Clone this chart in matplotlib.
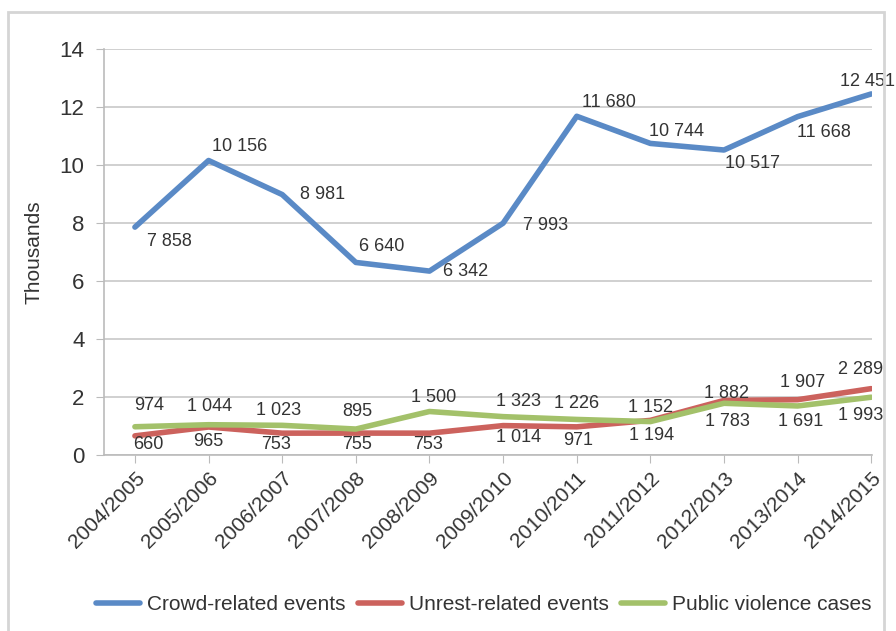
import numpy as np
import matplotlib
matplotlib.use('Agg')
import matplotlib.pyplot as plt
from matplotlib.patches import Rectangle

plt.rcParams['font.family'] = ['Liberation Sans', 'DejaVu Sans']

# data
years = ['2004/2005', '2005/2006', '2006/2007', '2007/2008', '2008/2009', '2009/2010',
         '2010/2011', '2011/2012', '2012/2013', '2013/2014', '2014/2015']
crowd = [7858, 10156, 8981, 6640, 6342, 7993, 11680, 10744, 10517, 11668, 12451]
unrest = [660, 965, 753, 755, 753, 1014, 971, 1194, 1882, 1907, 2289]
violence = [974, 1044, 1023, 895, 1500, 1323, 1226, 1152, 1783, 1691, 1993]

# label offsets (pixels, x right / y up)
crowd_off = [(35, -14), (31, 14), (40, 0), (26, 16), (36, 0), (42, -2),
             (32, 14), (26, 12), (29, -13), (26, -16), (-4, 12)]
unrest_off = [(13, -9), (0, -14), (-6, -11), (1, -11), (-1, -11), (15, -12),
              (1, -14), (1, -15), (3, 7), (5, 17), (-11, 19)]
violence_off = [(14, 21), (1, 18), (-4, 15), (1, 18), (4, 14), (15, 15),
                (0, 16), (0, 14), (3, -18), (3, -16), (-11, -18)]

c_blue = '#5a8ac6'
c_red = '#cc625d'
c_green = '#a3c16a'
txt = '#333333'

fig = plt.figure(figsize=(8.96, 6.31), dpi=100)
ax = fig.add_axes([104/896, 1-455/631, (872-104)/896, (455-49)/631])

x = np.arange(len(years))
series = [(crowd, c_blue, 'Crowd-related events', crowd_off),
          (unrest, c_red, 'Unrest-related events', unrest_off),
          (violence, c_green, 'Public violence cases', violence_off)]
for vals, col, name, offs in series:
    v = np.array(vals) / 1000
    ax.plot(x, v, color=col, lw=4, label=name, solid_capstyle='round', solid_joinstyle='round')
    for i in range(len(vals)):
        ax.annotate(f'{vals[i]:,}'.replace(',', ' '), (x[i], v[i]), xytext=offs[i],
                    textcoords='offset pixels', ha='center', va='center',
                    fontsize=13, color=txt)

ax.set_xlim(-0.42, 10.01)
ax.set_ylim(0, 14)
ax.set_yticks(np.arange(0, 15, 2))
ax.set_xticks(x)
ax.set_xticklabels(years, rotation=45, ha='right', rotation_mode='anchor', fontsize=15, color=txt)
ax.tick_params(axis='y', labelsize=16, labelcolor=txt, length=6, color='#bbbbbb', pad=8)
ax.tick_params(axis='x', length=6, color='#bbbbbb', pad=4)
ax.grid(axis='y', color='#c8c8c8', lw=1.2)
ax.set_axisbelow(True)
for s in ['top', 'right']:
    ax.spines[s].set_visible(False)
for s in ['left', 'bottom']:
    ax.spines[s].set_color('#bbbbbb')
    ax.spines[s].set_linewidth(1.2)
ax.set_ylabel('Thousands', fontsize=15, color=txt, labelpad=12)

leg = fig.legend(loc='center', bbox_to_anchor=(0.54, 1-605/631), ncol=3, frameon=False,
                 fontsize=15, handlelength=2.1, columnspacing=0.6, handletextpad=0.35)
for t in leg.get_texts():
    t.set_color(txt)

# outer frame
fig.patches.append(Rectangle((8/896, -0.05), (884-8)/896, 1.05-12/631, transform=fig.transFigure,
                             fill=False, ec='#d5d5d5', lw=2))

fig.savefig('out.png', dpi=100)
